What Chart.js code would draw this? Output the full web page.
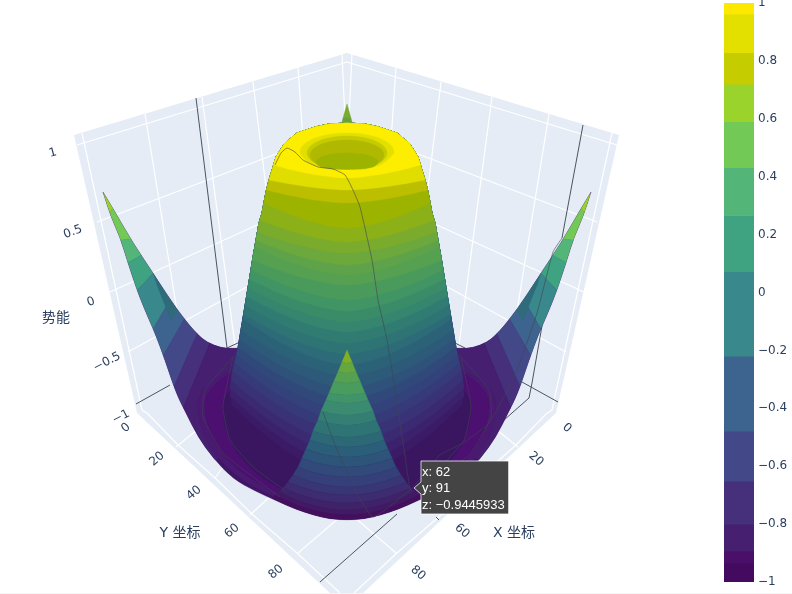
<!DOCTYPE html>
<html><head><meta charset="utf-8">
<script src="https://cdn.jsdelivr.net/npm/chart.js@4"></script>
<style>
html,body{margin:0;padding:0;background:#fff;overflow:hidden}
#scene{position:absolute;left:0;top:0}
#bar{position:absolute;left:724px;top:0}
</style></head><body>
<canvas id="scene" width="792" height="594"></canvas>
<canvas id="bar" width="68" height="594"></canvas>
<script>
const TEXT='#2a3f5f', PANE='#E5ECF6', FONT='"DejaVu Sans","Open Sans",sans-serif', TITLEFONT='"DejaVu Sans","Noto Sans CJK SC",sans-serif', TIPFONT='"Liberation Sans",Arial,sans-serif';

// colour bar
const barLow =[0.962,0.828,0.72,0.59,0.431,0.266,0.072,-0.22,-0.479,-0.652,-0.8,-0.893,-0.935];
const barHigh=[1,0.962,0.828,0.72,0.59,0.431,0.266,0.072,-0.22,-0.479,-0.652,-0.8,-0.893];
const barColors=['#FDE800','#E3E000','#C5CC00','#9AD32B','#72C955','#53B678','#3FA382','#39888C','#3D648F','#434888','#46307C','#461F70','#4A0F69'];
const barBottomLow=[-1], barBottomHigh=[-0.935], barBottomColor=['#440A5F'];

// scene outline (projected plane readings)
const paneOutline=[[74,135],[347,53],[619,135],[556,413],[362,594],[331,594],[137,413]];
const zGridLeft=[[[77,145],[347,62]],[[97,222],[347,127]],[[110,292],[347,184]],[[128,352],[347,232]]];
const wallVerticalsLeft=[[[82,133],[142,410]],[[145,114],[185,360]],[[202,97],[235,345]],[[253,82],[270,220]],[[298,67],[305,170]],[[342,53],[345,120]]];
const floorEdgeLeft=[[142,410],[148,414],[178,445],[215,478],[253,515],[297,553],[340,593]];
const floorTicksLeft=[[[176,447],[197,430]],[[215,478],[228,460]],[[250,515],[277,490]],[[298,553],[340,517]]];
const rods=[[[196,98],[227,348]],[[583,125],[562,238]],[[543,320],[532,383],[529,398]],[[136,404],[170,385]],[[227,348],[240,342]],[[558,402],[522,382]],[[465,348],[453,342]],[[320,582],[397,514]],[[470,450],[529,398]],[[436,517],[439,520]]];
const pageStrip=[[0,593],[792,593],[792,594],[0,594]];

// far corner of the surface
const farSpike=[[[347,104],[343,118],[351,118]],[[343,118],[341,126],[353,126],[351,118]]];
const farSpikeColors=['#79AB2C','#66A23F'];

// surface silhouette, left half; the tip is doubled to stay sharp
const baseUpperLeft=[[103,192],[103,192],[115,212],[133,243],[153,273],[177,310],[200,338],[215,346],[227,348.5],[240,348]];
const baseLowerLeft=[[347,520],[330,519],[313,515],[295,509],[277,501],[255,491],[233,479],[213,458],[198,437],[186,413],[176,393],[165,360],[155,333],[147,315],[138,293],[128,263],[120,237],[111,217]];
const baseColor='#3F1566';
const wingBands=[
 [[95,180],[116,202],[106,220],[95,215]],
 [[116,202],[138,238],[114,241],[106,220]],
 [[138,238],[147,252],[122,266],[114,241]],
 [[147,252],[158,268],[132,296],[122,266]],
 [[158,268],[173,295],[149,336],[132,296]],
 [[173,295],[185,318],[159,363],[149,336]],
 [[185,318],[198,332],[170,396],[159,363]],
 [[198,332],[212,338],[180,416],[170,396]],
 [[212,338],[245,340],[245,445],[205,465],[180,416]],
 [[150,262],[181,306],[171,320],[157,285]]
];
const wingColors=['#96D32B','#72C955','#53B678','#3FA382','#39888C','#3D648F','#434888','#46307C','#461F70','#2F6B7A'];

// floor rings: centre y, half width, lower height, upper height
const ringY=[405,405,408], ringA=[149,142,124], ringB=[105,100,95], ringT=[55,55,50];
const ringColors=['#4A1A70','#4B1070','#3A1560'];

// tower silhouette: height on the picture and half width
const silY=[123,124,127,133,143,149,157,167,180,192,213,223,257,300,348,373,390,408];
const silA=[0,18,32,50,62,66,71,74,78,81,85,88,94,101,109,115,117,116];

// tower contours, lowest first
const towerEdgeY=[404,396,388,380,371,363,355,347,339,330,319,314,305,296,288,279,270,260,247,240,232,220,203,190,180,165];
const towerHalf=[116,117,117,116,114.5,112.5,110.5,109,107.5,106,104,103.5,102,100.5,99,97.5,96,94.5,92,91,89,87,83,80.5,78,73.5];
const towerFrontY=[477,466,455,444,432,421,410,399,388,376,365,354,343,332,322,311,300,285,275,265,253,242,228,203,190,178];
const towerColors=['#3B1A66','#3C226C','#3B2A72','#393276','#363A78','#33427A','#31497A','#2E527A','#2D5A79','#2C6278','#2C6B77','#2E7475','#317C72','#35856F','#3A8C69','#419463','#4A9A5B','#55A151','#5EA349','#6CA83C','#7BAB2C','#8CB018','#9CB300','#BCBE00','#E0DD00','#FDEE00'];

// top of the tower
const rimColor='#FDEE00';
const craterY=[152,153,155,162], craterA=[47,40,37,31], craterB=[19,17,15,9];
const craterColors=['#E3E000','#C6CB00','#B0B800','#9CB300'];
const lipOutline=[[296,150],[303,158],[312,166],[330,169.5],[347,170],[365,169.5],[381,166],[390,158],[397,150],[417,160],[390,172],[347,177],[305,172],[277,160]];

// near corner stripes
const spikeEdgeY=[350,362,372,381,393,400,411,420,431,440,449,458,467,475,482,488,492,495,498];
const spikeCentreY=[350,363,373,383,395,403,415,425,437,447,457,467,477,487,495,503,510,515,520];
const spikeHalf=[0,5,9,13,18,21,26,29,34,37,41,45,49,54,59,64,68,72,75];
const spikeColors=['#7FB024','#66A63F','#55A151','#499B5E','#41946A','#3B8B70','#347F74','#2F7475','#2C6876','#2B5E78','#2D5479','#314A79','#35407A','#393675','#3D2C70','#3F2369','#421A64','#44105E'];

// thin cross-section and ring lines
const crossLines=[
 [[275,165],[281,153],[287,148],[295,152],[303,160],[318,167],[333,169],[345,175],[353,190],[360,207],[372,260],[378,300],[387,340],[400,423],[410,490]],
 [[323,412],[337,450],[357,493],[373,517],[412,488],[440,455],[463,443],[490,422],[517,370],[537,313],[553,252],[562,238]],
 [[235,355],[205,390],[203,417],[223,453],[257,480],[280,497]],
 [[233,357],[223,407],[230,440],[253,467],[287,492]],
 [[459,355],[489,390],[491,417],[471,453],[437,480]],
 [[461,357],[471,407],[464,440],[441,467]]
];

// hover label
const tipBox=[[421,461],[509,461],[509,514],[421,514],[421,494],[414,488],[421,482]];
const tipLines=['x: 62','y: 91','z: \u22120.9445933'];
const tipX=[422,422,422], tipY=[472,488,505];

// text
const zTicks=['1','0.5','0','\u22120.5','\u22121'], zX=[53,73,91,107,121], zY=[153,232,302,362,417], zRot=[-15,-20,-20,-27,-27];
const yTicks=['0','20','40','60','80'], yX=[126,157,194,232,276], yY=[428,459,493,531,572];
const xTicks=['0','20','60','80'], xX=[567,536,462,418], xY=[428,459,531,573];
const titles=['\u52bf\u80fd','Y \u5750\u6807','X \u5750\u6807'], titleX=[56,180,514], titleY=[318,533,533];

const sets=[];
function line(points,color,width,tension){
  sets.push({data:points.map(p=>({x:p[0],y:p[1]})),showLine:true,borderColor:color,borderWidth:width,pointRadius:0,pointHoverRadius:0,order:-sets.length,tension:tension||0});
  return sets.length-1;
}
function poly(points,color,edge,extra){
  sets.push(Object.assign({data:points.map(p=>({x:p[0],y:p[1]})),showLine:false,polyFill:true,polyColor:color,edge:edge,pointRadius:0,pointHoverRadius:0,order:-sets.length},extra||{}));
  return sets.length-1;
}
const flip=p=>[694-p[0],p[1]];
function oval(yc,a,bLow,bUp){
  const out=[];
  for(let i=0;i<64;i++){const t=i/64*2*Math.PI,s=Math.sin(t);out.push([347+a*Math.cos(t),yc+s*(s>0?bLow:bUp)]);}
  return out;
}
function sagCurve(xw,yEdge,yMid,power,n){
  const out=[];
  for(let i=0;i<=n;i++){const u=1-2*i/n;out.push([347+xw*u,yMid-(yMid-yEdge)*Math.pow(Math.abs(u),power)]);}
  return out;
}
function dome(yE,a,yF){
  const out=[];
  for(let k=silY.length-1;k>=0;k--) if(silY[k]<yE-1) out.push([347-silA[k],silY[k]]);
  for(let k=1;k<silY.length;k++) if(silY[k]<yE-1) out.push([347+silA[k],silY[k]]);
  return out.concat(sagCurve(a,yE,yF,1.6,40));
}
poly(paneOutline,PANE,0);
poly(pageStrip,'#F4F4F4',0);
zGridLeft.forEach(s=>{line(s,'#fff',1.2);line(s.map(flip),'#fff',1.2);});
wallVerticalsLeft.forEach(s=>{line(s,'#fff',1.2);line(s.map(flip),'#fff',1.2);});
line(floorEdgeLeft,'#fff',1.2);line(floorEdgeLeft.map(flip),'#fff',1.2);
floorTicksLeft.forEach(s=>{line(s,'#fff',1.2);line(s.map(flip),'#fff',1.2);});
rods.forEach(s=>line(s,'#4a5560',1));
farSpike.forEach((s,i)=>poly(s,farSpikeColors[i],0.4));
const surfaceOutline=baseUpperLeft.concat(baseUpperLeft.slice().reverse().map(flip),baseLowerLeft.slice().reverse().map(flip),baseLowerLeft.slice(1));
const baseIndex=poly(surfaceOutline,baseColor,0.4,{smooth:true});
wingBands.forEach((s,i)=>{poly(s,wingColors[i],0.5,{clipBase:true});poly(s.map(flip),wingColors[i],0.5,{clipBase:true});});
ringY.forEach((y,i)=>poly(oval(y,ringA[i],ringB[i],ringT[i]),ringColors[i],0.4,{clipBase:true}));
towerEdgeY.forEach((y,i)=>poly(dome(y,towerHalf[i],towerFrontY[i]),towerColors[i],0.4));
craterY.forEach((y,i)=>poly(oval(y,craterA[i],craterB[i],craterB[i]),craterColors[i],0.4));
poly(lipOutline,rimColor,0.4,{smooth:true});
spikeColors.forEach((c,i)=>{
  const top=sagCurve(spikeHalf[i],spikeEdgeY[i],spikeCentreY[i],2,14);
  const bottom=sagCurve(spikeHalf[i+1],spikeEdgeY[i+1],spikeCentreY[i+1],2,14).reverse();
  poly(top.concat(bottom),c,0.4,{clipBase:true});
});
crossLines.forEach(s=>line(s,'rgba(62,68,80,.75)',0.8,0.15));
poly(tipBox,'#444444',0);
line(tipBox.concat([tipBox[0]]),'rgba(255,255,255,.75)',1);

function tracePath(c,pts,smooth){
  c.beginPath();
  if(!smooth){pts.forEach((p,i)=>i?c.lineTo(p.x,p.y):c.moveTo(p.x,p.y));c.closePath();return;}
  const n=pts.length,mid=(a,b)=>({x:(a.x+b.x)/2,y:(a.y+b.y)/2});
  const s=mid(pts[0],pts[1]);c.moveTo(s.x,s.y);
  for(let i=1;i<=n;i++){const p=pts[i%n],m=mid(p,pts[(i+1)%n]);c.quadraticCurveTo(p.x,p.y,m.x,m.y);}
  c.closePath();
}
const sceneDraw={id:'sceneDraw',
  beforeDatasetDraw(chart,args){
    const ds=chart.data.datasets[args.index];
    if(!ds.polyFill) return;
    const c=chart.ctx;
    c.save();
    if(ds.clipBase){tracePath(c,chart.getDatasetMeta(baseIndex).data,true);c.clip();}
    tracePath(c,args.meta.data,!!ds.smooth);
    c.fillStyle=ds.polyColor;c.fill();
    if(ds.edge>0){c.strokeStyle=ds.polyColor;c.lineWidth=ds.edge;c.stroke();}
    c.restore();
  },
  afterDraw(chart){
    const c=chart.ctx,sx=chart.scales.x,sy=chart.scales.y;
    const put=(t,x,y,rot,font,col,al)=>{c.save();c.translate(sx.getPixelForValue(x),sy.getPixelForValue(y));c.rotate(rot*Math.PI/180);
      c.font=font;c.fillStyle=col;c.textAlign=al||'center';c.textBaseline='middle';c.fillText(t,0,0);c.restore();};
    zTicks.forEach((t,i)=>put(t,zX[i],zY[i],zRot[i],'12px '+FONT,TEXT));
    yTicks.forEach((t,i)=>put(t,yX[i],yY[i],-40,'12px '+FONT,TEXT));
    xTicks.forEach((t,i)=>put(t,xX[i],xY[i],40,'12px '+FONT,TEXT));
    titles.forEach((t,i)=>put(t,titleX[i],titleY[i],0,'14px '+TITLEFONT,TEXT));
    tipLines.forEach((t,i)=>put(t,tipX[i],tipY[i],0,'13px '+TIPFONT,'#fff','left'));
  }
};
new Chart(document.getElementById('scene'),{type:'scatter',data:{datasets:sets},plugins:[sceneDraw],
  options:{responsive:false,animation:false,events:[],layout:{padding:0},
    plugins:{legend:{display:false},tooltip:{enabled:false}},
    scales:{x:{type:'linear',min:0,max:792,display:false},y:{type:'linear',min:0,max:594,reverse:true,display:false}}}});

const barSets=barLow.map((lo,i)=>({data:[[lo,barHigh[i]]],backgroundColor:barColors[i],barPercentage:1,categoryPercentage:1,grouped:false}));
barSets.push({data:[[barBottomLow[0],barBottomHigh[0]]],backgroundColor:barBottomColor[0],barPercentage:1,categoryPercentage:1,grouped:false});
new Chart(document.getElementById('bar'),{type:'bar',data:{labels:[''],datasets:barSets},
  options:{responsive:false,animation:false,events:[],layout:{padding:{top:3,bottom:12,left:0,right:0}},
    plugins:{legend:{display:false},tooltip:{enabled:false}},
    scales:{x:{display:false},
      y:{position:'right',min:-1,max:1,afterFit(s){s.width=38;s.paddingTop=0;s.paddingBottom=0;},grid:{display:false,drawTicks:false},border:{display:false},
        ticks:{stepSize:0.2,padding:4,color:TEXT,font:{size:12,family:FONT},
          callback(v){const r=Math.round(v*10)/10;return r<0?'\u2212'+Math.abs(r):String(r);}}}}}});
</script></body></html>
